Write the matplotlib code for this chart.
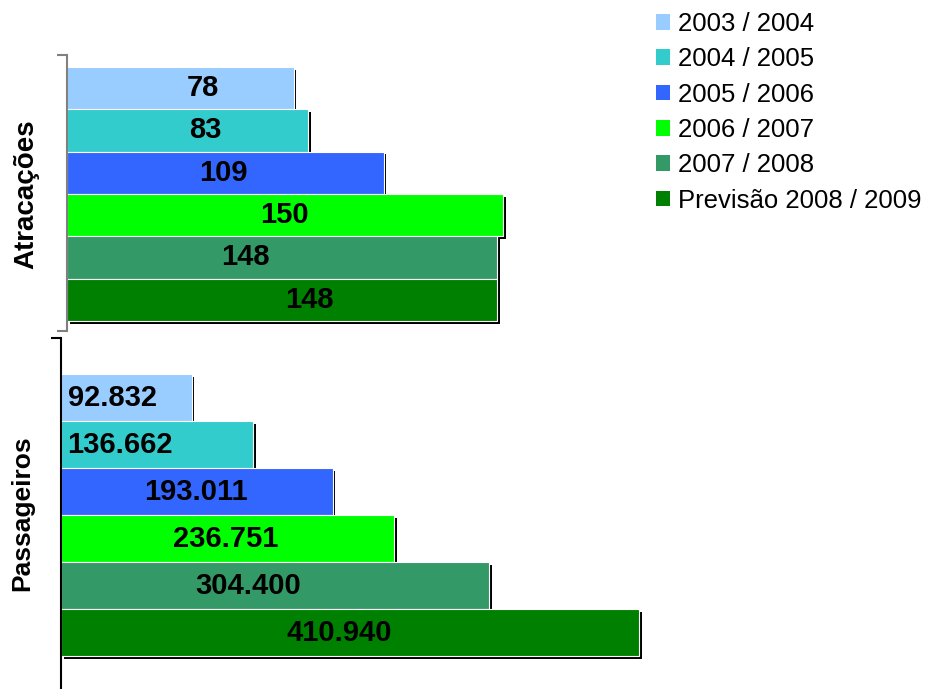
import matplotlib
matplotlib.use('Agg')
import matplotlib.pyplot as plt
import matplotlib.patheffects as pe
from matplotlib.patches import Patch

plt.rcParams['font.family'] = ['Liberation Sans', 'DejaVu Sans']

seasons = ['2003 / 2004', '2004 / 2005', '2005 / 2006', '2006 / 2007', '2007 / 2008', 'Previsão 2008 / 2009']
colors = ['#99CCFF', '#33CCCC', '#3366FF', '#00FF00', '#339966', '#008000']

atracacoes = [78, 83, 109, 150, 148, 148]
atracacoes_txt = ['78', '83', '109', '150', '148', '148']
passageiros = [92832, 136662, 193011, 236751, 304400, 410940]
passageiros_txt = ['92.832', '136.662', '193.011', '236.751', '304.400', '410.940']

# where the value labels sit along each bar (data units, as in the original slide)
atr_label_x = [46.8, 47.5, 54.0, 74.9, 61.3, 83.3]
pas_label_x = [36800, 42100, 95800, 116800, 133100, 197800]

W, H = 925, 689
fig = plt.figure(figsize=(W / 100, H / 100), dpi=100)

def px_axes(left, top, right, bottom):
	return fig.add_axes([left / W, 1 - bottom / H, (right - left) / W, (bottom - top) / H])

shadow = [pe.SimplePatchShadow(offset=(2, -2), shadow_rgbFace='black', alpha=1.0), pe.Normal()]

def draw_panel(ax, values, texts, label_x, xmax, ylim, spine_color, ticks):
	pos = list(range(len(values)))
	for i in pos:
		b = ax.barh(i, values[i], height=1.0, color=colors[i], edgecolor='white', linewidth=0.8)
		b.patches[0].set_path_effects(shadow)
		ax.text(label_x[i], i, texts[i], ha='center', va='center', fontsize=21, fontweight='bold', color='black')
	ax.set_xlim(0, xmax)
	ax.set_ylim(*ylim)
	for s in ['top', 'right', 'bottom']:
		ax.spines[s].set_visible(False)
	ax.spines['left'].set_color(spine_color)
	ax.spines['left'].set_linewidth(1.5)
	ax.set_xticks([])
	ax.set_yticks(ticks)
	ax.set_yticklabels([])
	ax.tick_params(axis='y', direction='out', length=7, width=1.5, color=spine_color)
	ax.set_facecolor('none')

ax1 = px_axes(67, 55, 642, 331)
draw_panel(ax1, atracacoes, atracacoes_txt, atr_label_x, 575 / 2.905, (5.74, -0.78), '#808080', [5.74, -0.78])

ax2 = px_axes(61, 338, 642, 689)
draw_panel(ax2, passageiros, passageiros_txt, pas_label_x, 581 / 0.001407, (6.2, -1.27), 'black', [-1.27])

fig.text(26 / W, 1 - 194 / H, 'Atracações', rotation=90, ha='center', va='center', fontsize=20, fontweight='bold')
fig.text(22 / W, 1 - 513 / H, 'Passageiros', rotation=90, ha='center', va='center', fontsize=19, fontweight='bold')

handles = [Patch(facecolor=c, edgecolor='none') for c in colors]
fig.legend(handles, seasons, loc='upper left', bbox_to_anchor=(656 / W, 1 - 12 / H), frameon=False,
	fontsize=18.5, handlelength=0.55, handleheight=0.55, handletextpad=0.31, labelspacing=0.44,
	borderpad=0, borderaxespad=0)

fig.savefig('out.png', dpi=100)
